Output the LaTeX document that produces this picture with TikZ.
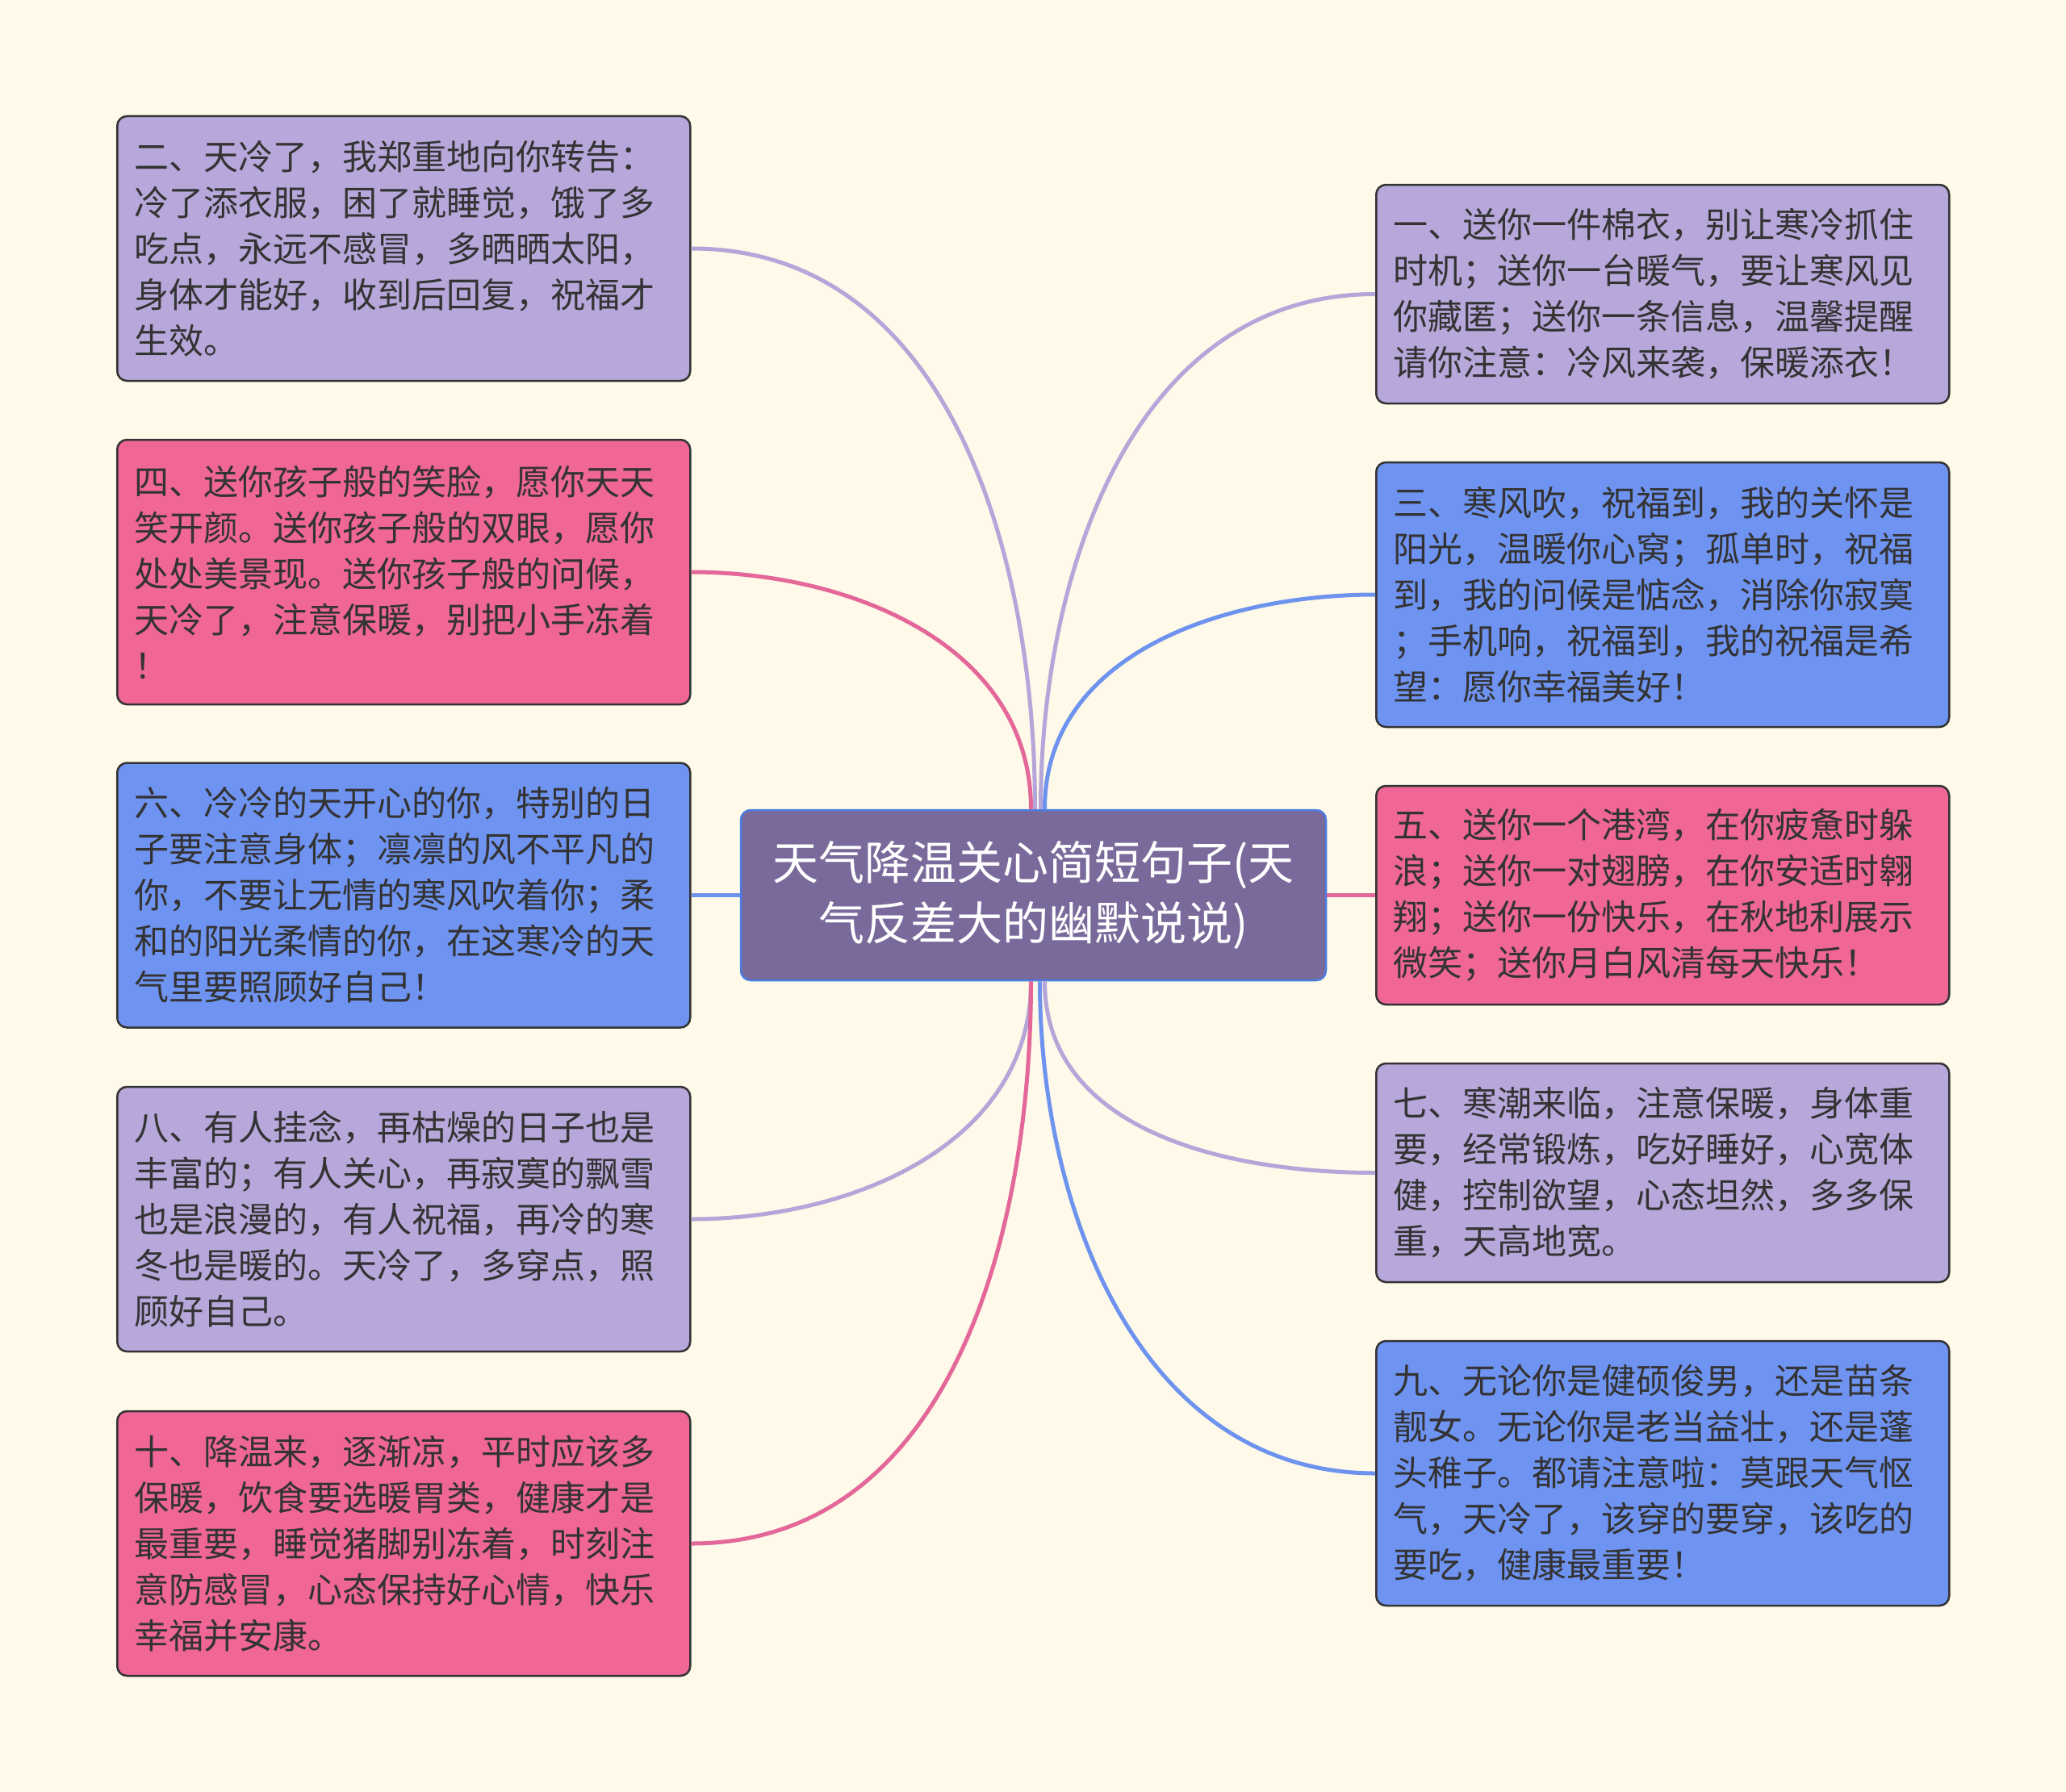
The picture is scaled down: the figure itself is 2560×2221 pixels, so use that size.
\documentclass[tikz,border=0pt]{standalone}
\usepackage{fontspec}
\setmainfont{Noto Sans CJK SC}
\usepackage{xcolor}
\definecolor{bgcream}{HTML}{FEF9E9}
\definecolor{boxpurple}{HTML}{B7A7DA}
\definecolor{boxpink}{HTML}{EF6697}
\definecolor{boxblue}{HTML}{6F93F1}
\definecolor{rootfill}{HTML}{7A6A9B}
\definecolor{rootline}{HTML}{4A7DE0}
\definecolor{linepurple}{HTML}{B4A6D8}
\definecolor{linepink}{HTML}{E4679A}
\definecolor{lineblue}{HTML}{6E93EE}
\definecolor{txtgray}{HTML}{333333}

\begin{document}
\begin{tikzpicture}[x=1pt, y=-1pt,
    leaf/.style={draw=txtgray, line width=2.5pt, rounded corners=12pt, text=txtgray,
        font=\fontsize{43}{57}\selectfont, align=left, text width=668pt,
        inner xsep=21pt, inner ysep=0pt, minimum height=#1, anchor=west},
    root/.style={draw=rootline, fill=rootfill, line width=2.5pt, rounded corners=12pt,
        text=white, font=\fontsize{57}{75}\selectfont, align=center,
        minimum width=725pt, minimum height=211pt},
    link/.style={draw=#1, line width=5pt}]

    \fill[bgcream] (0,0) rectangle (2560,2221);
    \useasboundingbox (0,0) rectangle (2560,2221);

    \node[root] (root) at (1280.5,1109.5) {天气降温关心简短句子(天\\气反差大的幽默说说)};

    % left side
    \node[leaf=328pt, fill=boxpurple] (er) at (144,308) {二、天冷了，我郑重地向你转告：\\冷了添衣服，困了就睡觉，饿了多\\吃点，永远不感冒，多晒晒太阳，\\身体才能好，收到后回复，祝福才\\生效。};
    \node[leaf=328pt, fill=boxpink] (si) at (144,709) {四、送你孩子般的笑脸，愿你天天\\笑开颜。送你孩子般的双眼，愿你\\处处美景现。送你孩子般的问候，\\天冷了，注意保暖，别把小手冻着\\！};
    \node[leaf=328pt, fill=boxblue] (liu) at (144,1109.5) {六、冷冷的天开心的你，特别的日\\子要注意身体；凛凛的风不平凡的\\你，不要让无情的寒风吹着你；柔\\和的阳光柔情的你，在这寒冷的天\\气里要照顾好自己！};
    \node[leaf=328pt, fill=boxpurple] (ba) at (144,1511) {八、有人挂念，再枯燥的日子也是\\丰富的；有人关心，再寂寞的飘雪\\也是浪漫的，有人祝福，再冷的寒\\冬也是暖的。天冷了，多穿点，照\\顾好自己。};
    \node[leaf=328pt, fill=boxpink] (shi) at (144,1913) {十、降温来，逐渐凉，平时应该多\\保暖，饮食要选暖胃类，健康才是\\最重要，睡觉猪脚别冻着，时刻注\\意防感冒，心态保持好心情，快乐\\幸福并安康。};

    % right side
    \node[leaf=271pt, fill=boxpurple] (yi) at (1704,364.5) {一、送你一件棉衣，别让寒冷抓住\\时机；送你一台暖气，要让寒风见\\你藏匿；送你一条信息，温馨提醒\\请你注意：冷风来袭，保暖添衣！};
    \node[leaf=328pt, fill=boxblue] (san) at (1704,737) {三、寒风吹，祝福到，我的关怀是\\阳光，温暖你心窝；孤单时，祝福\\到，我的问候是惦念，消除你寂寞\\；手机响，祝福到，我的祝福是希\\望：愿你幸福美好！};
    \node[leaf=271pt, fill=boxpink] (wu) at (1704,1109.5) {五、送你一个港湾，在你疲惫时躲\\浪；送你一对翅膀，在你安适时翱\\翔；送你一份快乐，在秋地利展示\\微笑；送你月白风清每天快乐！};
    \node[leaf=271pt, fill=boxpurple] (qi) at (1704,1453.5) {七、寒潮来临，注意保暖，身体重\\要，经常锻炼，吃好睡好，心宽体\\健，控制欲望，心态坦然，多多保\\重，天高地宽。};
    \node[leaf=328pt, fill=boxblue] (jiu) at (1704,1826) {九、无论你是健硕俊男，还是苗条\\靓女。无论你是老当益壮，还是蓬\\头稚子。都请注意啦：莫跟天气怄\\气，天冷了，该穿的要穿，该吃的\\要吃，健康最重要！};

    % connectors
    \draw[link=linepurple] ([xshift=2pt]root.north) to[out=90, in=0] (er.east);
    \draw[link=linepink] ([xshift=-3pt]root.north) to[out=90, in=0] (si.east);
    \draw[link=lineblue] (root.west) -- (liu.east);
    \draw[link=linepurple] ([xshift=-3pt]root.south) to[out=-90, in=0] (ba.east);
    \draw[link=linepink] ([xshift=-3pt]root.south) to[out=-90, in=0] (shi.east);
    \draw[link=linepurple] ([xshift=9pt]root.north) to[out=90, in=180] (yi.west);
    \draw[link=lineblue] ([xshift=14pt]root.north) to[out=90, in=180] (san.west);
    \draw[link=linepink] (root.east) -- (wu.west);
    \draw[link=linepurple] ([xshift=14pt]root.south) to[out=-90, in=180] (qi.west);
    \draw[link=lineblue] ([xshift=8pt]root.south) to[out=-90, in=180] (jiu.west);
\end{tikzpicture}
\end{document}
